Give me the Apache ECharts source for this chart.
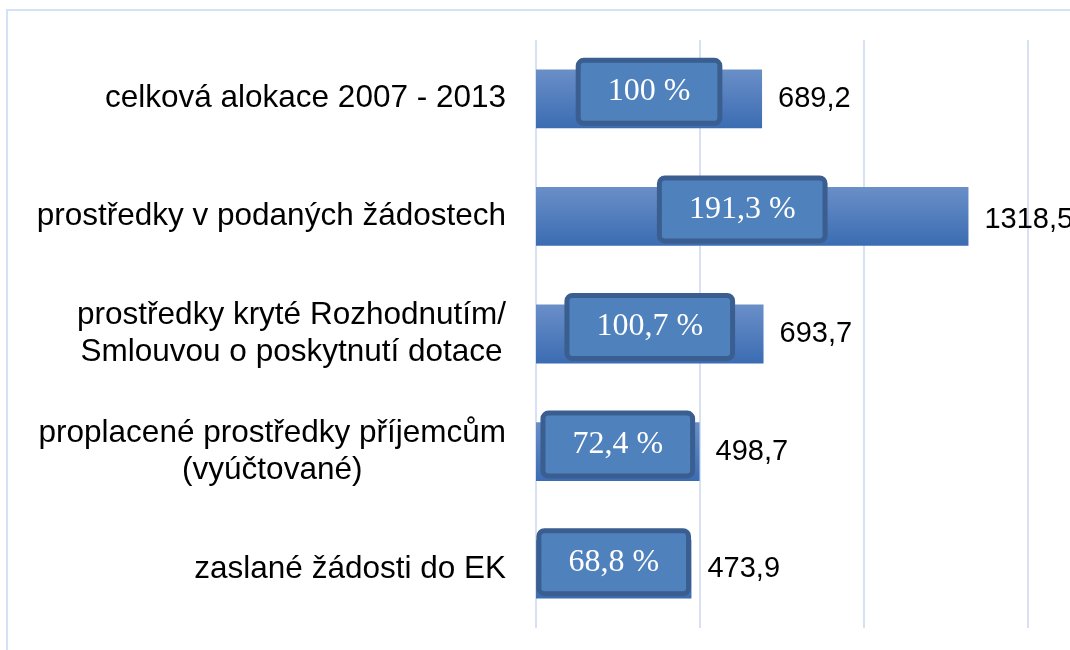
<!DOCTYPE html>
<html>
<head>
<meta charset="utf-8">
<script src="https://cdn.jsdelivr.net/npm/echarts@6/dist/echarts.min.js"></script>
<style>
  html, body { margin: 0; padding: 0; background: #fff; }
  #chart { width: 1070px; height: 650px; }
</style>
</head>
<body>
<div id="chart"></div>
<script>
// data (mil. EUR and share of the allocation)
const categories = [
  'celková alokace 2007 - 2013',
  'prostředky v podaných žádostech',
  'prostředky kryté Rozhodnutím/\nSmlouvou o poskytnutí dotace',
  'proplacené prostředky příjemcům\n(vyúčtované)',
  'zaslané žádosti do EK'
]
const amounts = [689.2, 1318.5, 693.7, 498.7, 473.9]
const shares = [100, 191.3, 100.7, 72.4, 68.8]
const axisTicks = [0, 500, 1000, 1500]

const fmtNum = (v) => String(v).replace('.', ',')

// the long bar has its labels nudged a bit in the original
const boxOffsets = { 1: [-10, -7] }
const valueOffsets = { 1: [0, 4] }

const chart = echarts.init(document.getElementById('chart'))

const option = {
  backgroundColor: '#ffffff',
  animation: false,
  graphic: [
    {
      type: 'rect',
      silent: true,
      shape: { x: 7, y: 10, width: 1200, height: 800 },
      style: { fill: 'none', stroke: '#d5e2f3', lineWidth: 2 }
    }
  ],
  grid: {
    left: 536,
    right: 42,
    top: 40,
    bottom: 22
  },
  xAxis: {
    type: 'value',
    min: axisTicks[0],
    max: axisTicks[axisTicks.length - 1],
    interval: axisTicks[1] - axisTicks[0],
    axisLine: { show: false },
    axisTick: { show: false },
    axisLabel: { show: false },
    splitLine: { show: true, lineStyle: { color: '#d6e2f4', width: 2 } }
  },
  yAxis: {
    type: 'category',
    inverse: true,
    data: categories,
    axisLine: { show: false },
    axisTick: { show: false },
    axisLabel: {
      margin: 30,
      align: 'right',
      formatter: (v) => v.split('\n').map(l => '{c|' + l + '}').join('\n'),
      rich: {
        c: {
          align: 'center',
          fontFamily: 'Liberation Sans, Arial, sans-serif',
          fontSize: 31.5,
          lineHeight: 37,
          color: '#000'
        }
      }
    }
  },
  series: [
    {
      name: 'alokace',
      type: 'bar',
      data: amounts.map((v, i) => ({
        value: v,
        label: { offset: boxOffsets[i] || [0, -7] }
      })),
      barWidth: '50%',
      itemStyle: {
        color: new echarts.graphic.LinearGradient(0, 0, 0, 1, [
          { offset: 0, color: '#6a8fc8' },
          { offset: 1, color: '#3b6cb2' }
        ])
      },
      label: {
        show: true,
        position: 'inside',
        formatter: (p) => fmtNum(shares[p.dataIndex]) + ' %',
        fontFamily: 'Liberation Serif, Times New Roman, serif',
        fontSize: 32,
        lineHeight: 32,
        color: '#ffffff',
        backgroundColor: '#4f81bd',
        borderColor: '#3a5e8f',
        borderWidth: 5,
        borderRadius: 3,
        padding: [13, 27]
      }
    },
    {
      name: 'hodnoty',
      type: 'bar',
      data: amounts.map((v, i) => ({
        value: v,
        label: { offset: valueOffsets[i] || [0, 0] }
      })),
      barWidth: '50%',
      barGap: '-100%',
      silent: true,
      itemStyle: { color: 'rgba(0,0,0,0)' },
      label: {
        show: true,
        position: 'right',
        distance: 16,
        formatter: (p) => fmtNum(p.value),
        fontFamily: 'Liberation Sans, Arial, sans-serif',
        fontSize: 29,
        color: '#000'
      }
    }
  ]
}

chart.setOption(option)
</script>
</body>
</html>
